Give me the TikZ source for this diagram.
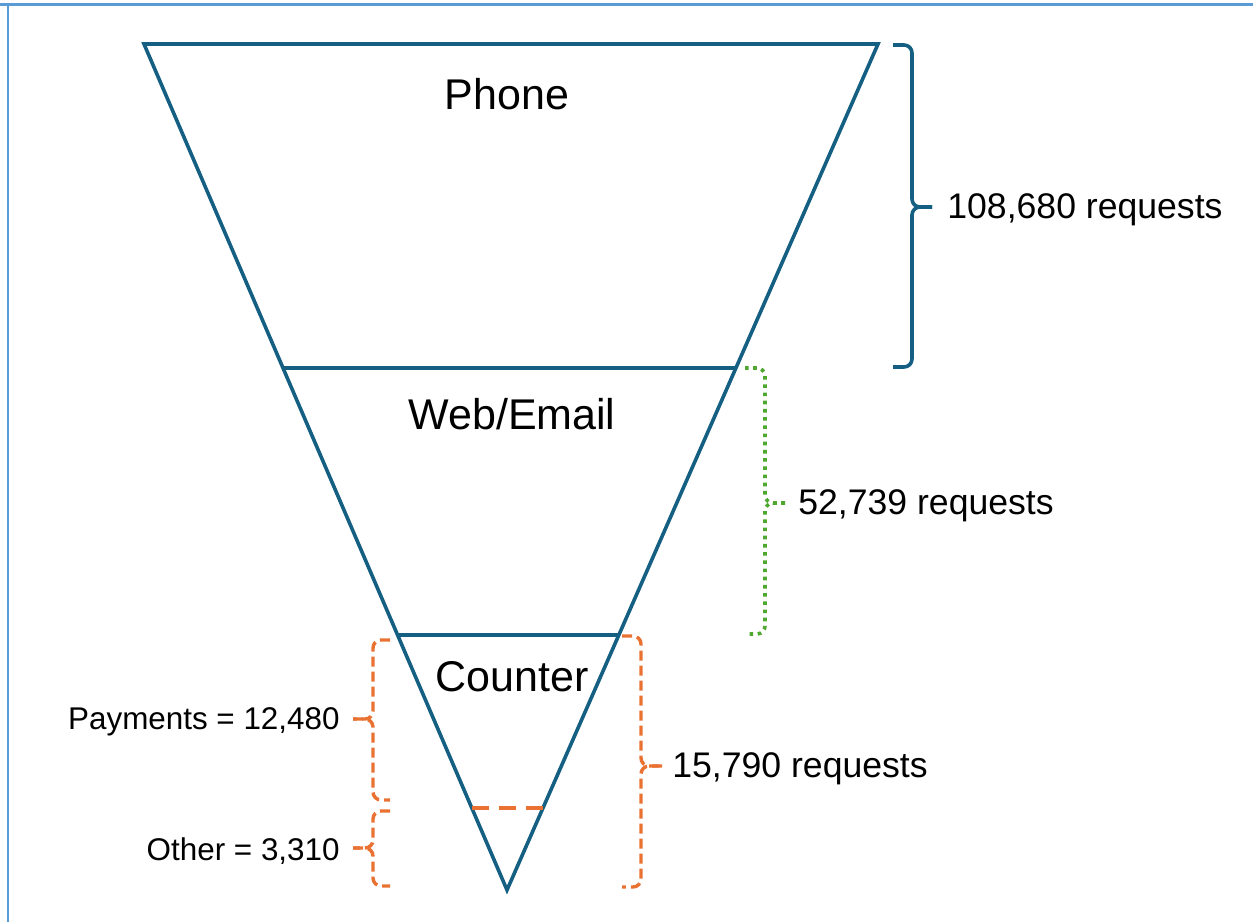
\documentclass[tikz,border=0pt]{standalone}
\usepackage{fontspec}
\setmainfont{Liberation Sans}
\usetikzlibrary{positioning,calc}
\definecolor{funnelblue}{HTML}{156082}
\definecolor{counterorange}{HTML}{E97132}
\definecolor{webgreen}{HTML}{4EA72E}
\definecolor{frameblue}{HTML}{5B9BD5}

% bracket beside the funnel: #1 style, #2 x of the hooks, #3 x of the spine,
% #4 top y, #5 bottom y, #6 y of the tip, #7 x of the tip, #8 name of the tip
\newcommand\sidebracket[8]{%
  \draw[#1, rounded corners=4pt] (#2,#4) -- (#3,#4) -- (#3,#6) -- (#7,#6);
  \draw[#1, rounded corners=4pt] (#7,#6) -- (#3,#6) -- (#3,#5) -- (#2,#5);
  \coordinate (#8) at (#7,#6);}

\begin{document}
\begin{tikzpicture}[x=0.5pt, y=-0.5pt]
    \tikzstyle{funnel} = [draw=funnelblue, line width=1.8pt, line join=miter]
    \tikzstyle{level} = [font=\fontsize{21.5}{25}\selectfont, inner sep=0pt]
    \tikzstyle{count} = [font=\fontsize{17.8}{21}\selectfont, inner sep=0pt, yshift=-1.5pt]
    \tikzstyle{split} = [font=\fontsize{15.7}{19}\selectfont, inner sep=0pt, yshift=-1.5pt]
    \tikzstyle{phonebr} = [draw=funnelblue, line width=1.8pt]
    \tikzstyle{webbr} = [draw=webgreen, line width=1.8pt, dash pattern=on 1.8pt off 2.3pt]
    \tikzstyle{counterbr} = [draw=counterorange, line width=1.7pt, dash pattern=on 5pt off 2.5pt]
  \useasboundingbox (0,0) rectangle (1253,922);
  % frame
  \draw[frameblue, line width=1.5pt] (0,4) -- (1253,4);
  \draw[frameblue, line width=0.8pt] (8,4) -- (8,922);
  % funnel
  \coordinate (tl) at (144,44);
  \coordinate (tr) at (878,44);
  \coordinate (apex) at (507,890);
  \draw[funnel] (tl) -- (tr) -- (apex) -- cycle;
  \draw[funnel] ($(tl)!0.383!(apex)$) -- ($(tr)!0.383!(apex)$);
  \draw[funnel] ($(tl)!0.6986!(apex)$) -- ($(tr)!0.6986!(apex)$);
  \draw[draw=counterorange, line width=1.7pt, dash pattern=on 8.5pt off 5pt]
       ($(tl)!0.903!(apex)$) -- ($(tr)!0.903!(apex)$);
  \node[level] (phone) at (507,94) {Phone};
  \node[level] (web) at (512,414) {Web/Email};
  \node[level] (counter) at (512,677) {Counter};
  % brackets
  \sidebracket{phonebr}{893}{912}{45}{367}{207}{932}{phonetip}
  \sidebracket{webbr}{745}{765}{368}{634}{503}{785}{webtip}
  \sidebracket{counterbr}{622}{641}{636}{887}{766}{662}{countertip}
  \sidebracket{counterbr}{390}{373}{640}{800}{719}{353}{paytip}
  \sidebracket{counterbr}{390}{373}{811}{886}{848}{353}{othertip}
  \node[count, right=7.5pt of phonetip] (phonen) {108,680 requests};
  \node[count, right=6.5pt of webtip] (webn) {52,739 requests};
  \node[count, right=5pt of countertip] (countern) {15,790 requests};
  \node[split, left=6.5pt of paytip] (payn) {Payments = 12,480};
  \node[split, left=6.5pt of othertip] (othern) {Other = 3,310};
  \end{tikzpicture}
\end{document}
